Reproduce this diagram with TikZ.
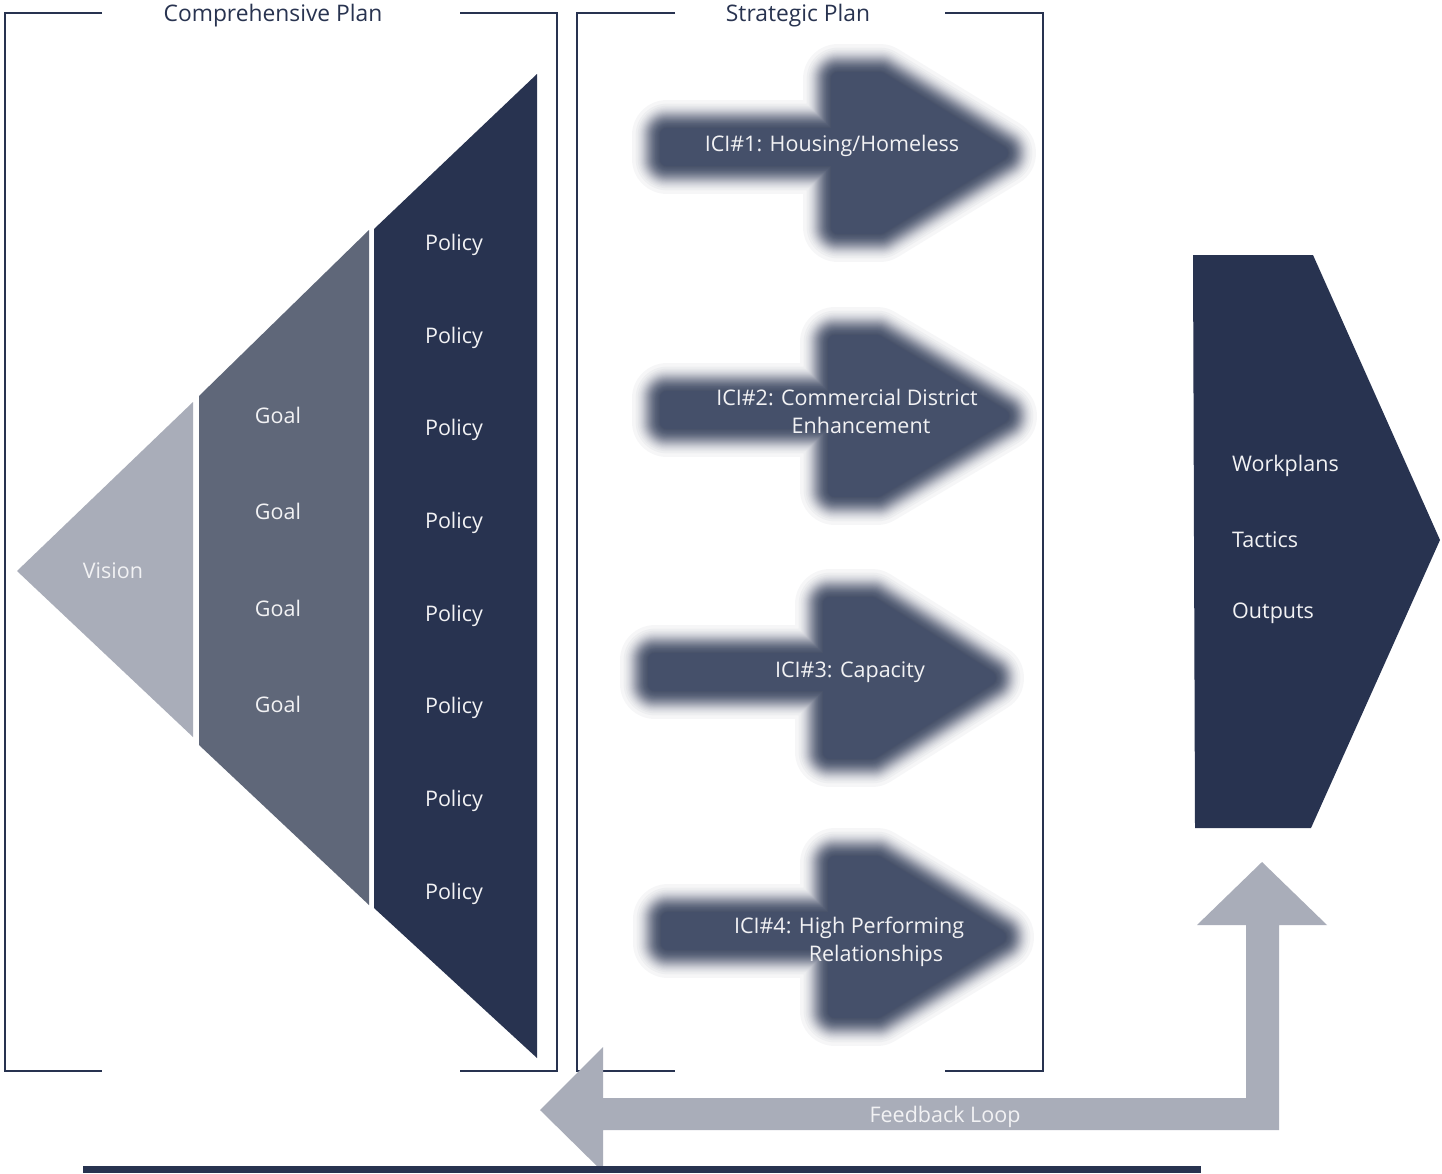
\documentclass[tikz,border=0pt]{standalone}
\usepackage{fontspec}
\setmainfont{Open Sans}
\definecolor{navy}{RGB}{40,51,80}
\definecolor{goalc}{RGB}{95,103,121}
\definecolor{lightc}{RGB}{169,173,185}
\definecolor{arrowc}{RGB}{69,80,106}
\definecolor{txtc}{RGB}{242,242,244}
\tikzset{
  bracketline/.style={draw=navy, line width=2pt},
  lbl/.style={text=txtc, inner sep=0pt, font=\fontsize{21.5}{25}\selectfont},
  ttl/.style={text=navy, inner sep=0pt, font=\fontsize{22.8}{26}\selectfont},
  halo/.style={draw=arrowc, opacity=0.0477, line join=round},
}
% blurred block arrow: #1 left end, #2 head start, #3 tip, #4 centre line (all at the 50% edge)
\newcommand\blurarrow[4]{%
  \coordinate (b1) at ({#1+20},{#4-12});
  \coordinate (b2) at ({#2+20},{#4-12});
  \coordinate (b3) at ({#2+20},{#4-68});
  \coordinate (b4) at ({#2+62},{#4-68});
  \coordinate (b5) at ({#3-20},{#4+6});
  \coordinate (b6) at ({#2+62},{#4+80});
  \coordinate (b7) at ({#2+20},{#4+80});
  \coordinate (b8) at ({#2+20},{#4+12});
  \coordinate (b9) at ({#1+20},{#4+12});
  \foreach \j in {1,...,80}{%
    \pgfmathsetmacro\w{2*(20+5*ln(1/(1-0.9523^\j)-1))}%
    \path[halo, line width=\w pt] (b1) -- (b2) -- (b3) -- (b4) -- (b5) -- (b6) -- (b7) -- (b8) -- (b9) -- cycle;}
  \fill[arrowc] (b1) -- (b2) -- (b3) -- (b4) -- (b5) -- (b6) -- (b7) -- (b8) -- (b9) -- cycle;
}
\begin{document}
\begin{tikzpicture}[x=1pt,y=-1pt]
\useasboundingbox[fill=white] (0,0) rectangle (1442,1173);

% brackets
\draw[bracketline] (102,13) -- (5,13) -- (5,1071) -- (102,1071);
\draw[bracketline] (460,13) -- (557,13) -- (557,1071) -- (460,1071);
\draw[bracketline] (675,13) -- (577,13) -- (577,1071) -- (675,1071);
\draw[bracketline] (945,13) -- (1043,13) -- (1043,1071) -- (945,1071);
\node[ttl] (tcomp) at (273,16) {Comprehensive Plan};
\node[ttl] (tstrat) at (798,16) {Strategic Plan};

% funnel
\fill[lightc] (17,571) -- (193,402) -- (193,737) -- cycle;
\fill[goalc] (199,396) -- (369,230) -- (369,905) -- (199,745) -- cycle;
\fill[navy] (374,229) -- (537,74) -- (537,1058) -- (374,908) -- cycle;

\node[lbl] (vision) at (113,571) {Vision};
\node[lbl] (goal1) at (278,415) {Goal};
\node[lbl] (goal2) at (278,511) {Goal};
\node[lbl] (goal3) at (278,608) {Goal};
\node[lbl] (goal4) at (278,704) {Goal};
\node[lbl] (pol1) at (454,245) {Policy};
\node[lbl] (pol2) at (454,338) {Policy};
\node[lbl] (pol3) at (454,430) {Policy};
\node[lbl] (pol4) at (454,523) {Policy};
\node[lbl] (pol5) at (454,616) {Policy};
\node[lbl] (pol6) at (454,708) {Policy};
\node[lbl] (pol7) at (454,801) {Policy};
\node[lbl] (pol8) at (454,894) {Policy};

% strategic arrows (blurred)
\blurarrow{647}{818}{1021}{147}
\blurarrow{647}{815}{1022}{410}
\blurarrow{635}{810}{1009}{672}
\blurarrow{648}{815}{1019}{931}

\node[lbl] (ici1) at (832,146) {ICI\#1: Housing/Homeless};
\node[lbl] (ici2a) at (847,397) {ICI\#2: Commercial District};
\node[lbl] (ici2b) at (861,425) {Enhancement};
\node[lbl] (ici3) at (850,672) {ICI\#3: Capacity};
\node[lbl] (ici4a) at (849,928) {ICI\#4: High Performing};
\node[lbl] (ici4b) at (876,956) {Relationships};

% output pentagon
\fill[navy] (1193,255) -- (1313,255) -- (1440,540) -- (1311,828) -- (1195,828) -- cycle;
\node[lbl, anchor=west] (work) at (1232,466) {Workplans};
\node[lbl, anchor=west] (tact) at (1232,540) {Tactics};
\node[lbl, anchor=west] (outp) at (1232,613) {Outputs};

% feedback loop
\fill[lightc] (540,1110) -- (603,1047) -- (603,1098) -- (1246,1098) -- (1246,925) -- (1197,925) -- (1262,862) -- (1327,925) -- (1279,925) -- (1279,1130) -- (603,1130) -- (603,1172) -- cycle;
\node[lbl] (fb) at (945,1117) {Feedback Loop};

% bottom bar
\fill[navy] (83,1166) rectangle (1201,1173);
\end{tikzpicture}
\end{document}
